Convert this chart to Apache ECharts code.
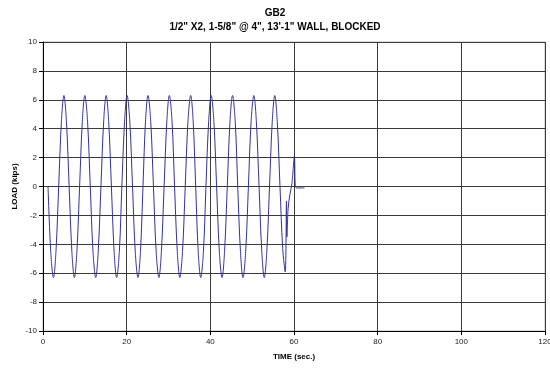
<!DOCTYPE html>
<html>
<head>
<meta charset="utf-8">
<script src="https://cdn.jsdelivr.net/npm/echarts@6/dist/echarts.min.js"></script>
<style>
  html, body { margin: 0; padding: 0; background: #fff; }
  #chart { width: 550px; height: 370px; }
</style>
</head>
<body>
<div id="chart"></div>
<script>
// Cyclic load test record: time (sec.) vs load (kips)
const timeSec = [
  1.2, 1.85, 2.5, 3.1, 3.75, 4.4, 5.0, 5.6,
  6.25, 6.9, 7.5, 8.1, 8.75, 9.4, 10.0, 10.65,
  11.3, 11.95, 12.6, 13.2, 13.85, 14.5, 15.1, 15.7,
  16.35, 17.0, 17.6, 18.25, 18.85, 19.5, 20.1, 20.75,
  21.4, 22.05, 22.7, 23.3, 23.9, 24.5, 25.1, 25.75,
  26.4, 27.05, 27.7, 28.3, 28.95, 29.6, 30.2, 30.85,
  31.45, 32.1, 32.7, 33.35, 34.0, 34.65, 35.3, 35.9,
  36.5, 37.1, 37.7, 38.35, 38.95, 39.6, 40.2, 40.85,
  41.5, 42.15, 42.8, 43.4, 44.05, 44.7, 45.3, 45.95,
  46.55, 47.2, 47.8, 48.45, 49.1, 49.75, 50.4, 51.0,
  51.65, 52.3, 52.9, 53.5, 54.15, 54.8, 55.4, 56.0,
  56.65, 57.3, 57.9, 58.2, 58.3, 58.6, 59.0, 59.5, 60.1, 60.3, 60.6, 62.5
];
const loadKips = [
  0, -4.5, -6.3, -4.5, 0, 4.5, 6.3, 4.5,
  0, -4.5, -6.3, -4.5, 0, 4.5, 6.3, 4.5,
  0, -4.5, -6.3, -4.5, 0, 4.5, 6.3, 4.5,
  0, -4.5, -6.3, -4.5, 0, 4.5, 6.3, 4.5,
  0, -4.5, -6.3, -4.5, 0, 4.5, 6.3, 4.5,
  0, -4.5, -6.3, -4.5, 0, 4.5, 6.3, 4.5,
  0, -4.5, -6.3, -4.5, 0, 4.5, 6.3, 4.5,
  0, -4.5, -6.3, -4.5, 0, 4.5, 6.3, 4.5,
  0, -4.5, -6.3, -4.5, 0, 4.5, 6.3, 4.5,
  0, -4.5, -6.3, -4.5, 0, 4.5, 6.3, 4.5,
  0, -4.5, -6.3, -4.5, 0, 4.5, 6.3, 4.5,
  0, -4.3, -5.9, -1.0, -3.5, -1.5, -0.6, 0.2, 2.1, 0.1, -0.1, -0.1
];
const xTicks = [0, 20, 40, 60, 80, 100, 120];
const yTicks = [-10, -8, -6, -4, -2, 0, 2, 4, 6, 8, 10];

const chartTitle = 'GB2';
const chartSubtitle = '1/2" X2, 1-5/8" @ 4", 13\'-1" WALL, BLOCKED';

const points = timeSec.map((t, i) => [t, loadKips[i]]);
const FONT = 'Liberation Sans, Arial, sans-serif';

const chart = echarts.init(document.getElementById('chart'), null, { renderer: 'canvas' });
chart.setOption({
  animation: false,
  backgroundColor: '#ffffff',
  title: [
    { text: chartTitle, left: 'center', top: 3,
      textStyle: { fontFamily: FONT, fontSize: 10, fontWeight: 'bold', color: '#000' } },
    { text: chartSubtitle, left: 'center', top: 17,
      textStyle: { fontFamily: FONT, fontSize: 10, fontWeight: 'bold', color: '#000' } }
  ],
  grid: { left: 43, right: 5, top: 42, bottom: 39, containLabel: false,
          outerBoundsMode: 'none',
          show: true, borderColor: '#b8b8b8', borderWidth: 1 },
  xAxis: {
    type: 'value', min: xTicks[0], max: xTicks[xTicks.length - 1], interval: 20,
    name: 'TIME (sec.)', nameLocation: 'middle', nameGap: 22, nameMoveOverlap: false,
    nameTextStyle: { fontFamily: FONT, fontSize: 8, fontWeight: 'bold', color: '#000' },
    axisLine: { show: true, onZero: false, lineStyle: { color: '#000', width: 1 } },
    axisTick: { show: true, inside: false, length: 4, lineStyle: { color: '#000' } },
    axisLabel: { fontFamily: FONT, fontSize: 8, color: '#222', margin: 7,
                 showMaxLabel: true, hideOverlap: false },
    splitLine: { show: true, lineStyle: { color: '#3a3a3a', width: 1 } }
  },
  yAxis: {
    type: 'value', min: yTicks[0], max: yTicks[yTicks.length - 1], interval: 2,
    name: 'LOAD (kips)', nameLocation: 'middle', nameGap: 24, nameRotate: 90,
    nameMoveOverlap: false,
    nameTextStyle: { fontFamily: FONT, fontSize: 8, fontWeight: 'bold', color: '#000' },
    axisLine: { show: true, onZero: false, lineStyle: { color: '#000', width: 1 } },
    axisTick: { show: true, inside: false, length: 4, lineStyle: { color: '#000' } },
    axisLabel: { fontFamily: FONT, fontSize: 8, color: '#222', margin: 6 },
    splitLine: { show: true, lineStyle: { color: '#3a3a3a', width: 1 } }
  },
  series: [{
    type: 'line',
    data: points,
    showSymbol: false,
    smooth: 0.35,
    clip: true,
    lineStyle: { color: '#33339a', width: 1 }
  }]
});
</script>
</body>
</html>
